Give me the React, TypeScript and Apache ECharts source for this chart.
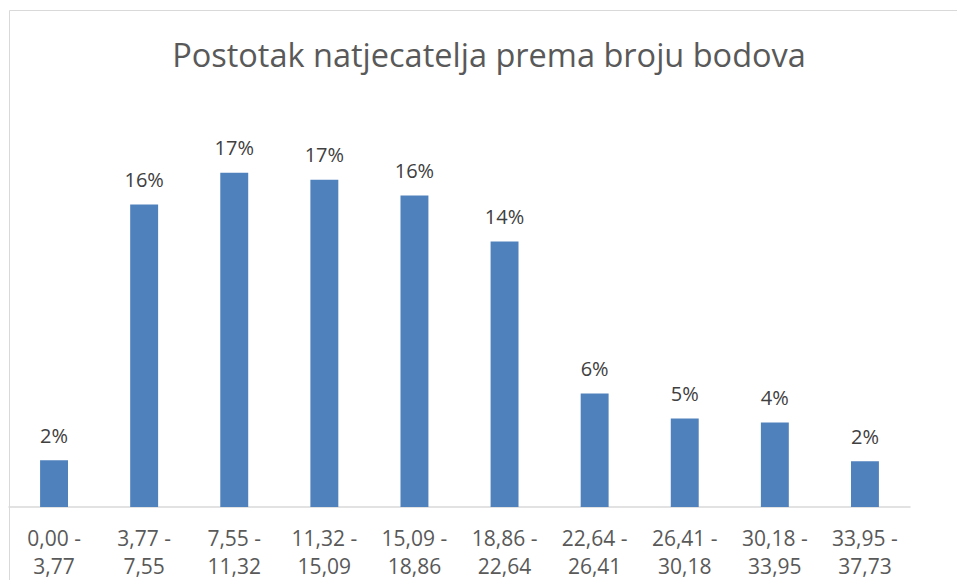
import React, { useEffect, useRef } from "react";
import * as echarts from "echarts";

const titleText = "Postotak natjecatelja prema broju bodova";
const categories = [
  "0,00 -\n3,77",
  "3,77 -\n7,55",
  "7,55 -\n11,32",
  "11,32 -\n15,09",
  "15,09 -\n18,86",
  "18,86 -\n22,64",
  "22,64 -\n26,41",
  "26,41 -\n30,18",
  "30,18 -\n33,95",
  "33,95 -\n37,73",
];
const percentages = [2.44, 15.75, 17.41, 17.05, 16.22, 13.83, 5.91, 4.61, 4.4, 2.38];

export default function App() {
  const ref = useRef<HTMLDivElement>(null);
  useEffect(() => {
    document.body.style.margin = "0";
    document.body.style.overflow = "hidden";
    if (!ref.current) return;
    const chart = echarts.init(ref.current, null, { renderer: "svg", width: 957, height: 580 });
    const font = "'Open Sans', 'Noto Sans', sans-serif";
    chart.setOption({
      animation: false,
      backgroundColor: "#ffffff",
      title: {
        text: titleText,
        left: 484,
        top: 33,
        textAlign: "center",
        textStyle: {
          fontFamily: font,
          fontSize: 32.5,
          fontWeight: "normal",
          color: "#595959",
        },
      },
      graphic: [
        {
          type: "rect",
          shape: { x: 9.5, y: 10.5, width: 1200, height: 1200 },
          style: { fill: "none", stroke: "#d9d9d9", lineWidth: 1 },
          silent: true,
        },
      ],
      grid: { left: 9, right: 47, top: 123, bottom: 71, containLabel: false },
      xAxis: {
        type: "category",
        data: categories,
        axisLine: { show: true, lineStyle: { color: "#d9d9d9", width: 1.5 } },
        axisTick: { show: false },
        axisLabel: {
          interval: 0,
          margin: 17,
          fontFamily: font,
          fontSize: 21,
          lineHeight: 28,
          color: "#595959",
        },
      },
      yAxis: {
        type: "value",
        min: 0,
        max: 20,
        show: false,
        splitLine: { show: false },
      },
      series: [
        {
          type: "bar",
          data: percentages,
          barWidth: "31%",
          itemStyle: { color: "#4f81bd" },
          label: {
            show: true,
            position: "top",
            distance: 15,
            fontFamily: font,
            fontSize: 20,
            color: "#404040",
            formatter: (p: any) => Math.round(p.value) + "%",
          },
        },
      ],
    });
    return () => chart.dispose();
  }, []);
  return <div ref={ref} style={{ width: 957, height: 580 }} />;
}
